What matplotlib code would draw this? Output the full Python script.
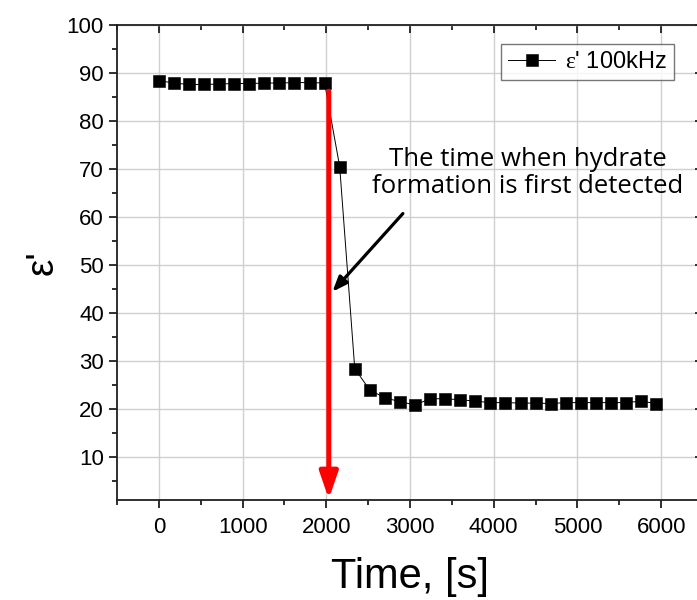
import numpy as np
import matplotlib
matplotlib.use('Agg')
import matplotlib.pyplot as plt

plt.rcParams['font.family'] = ['Liberation Sans', 'DejaVu Sans']
plt.rcParams['mathtext.fontset'] = 'custom'
plt.rcParams['mathtext.rm'] = 'Liberation Serif'

# Time points, s (every 180 s)
time_s = [0, 180, 360, 540, 720, 900, 1080, 1260, 1440, 1620, 1800, 1980,
          2160, 2340, 2520, 2700, 2880, 3060, 3240, 3420, 3600, 3780, 3960,
          4140, 4320, 4500, 4680, 4860, 5040, 5220, 5400, 5580, 5760, 5940]
# Real permittivity at 100 kHz
eps_100k = [88.4, 87.9, 87.6, 87.6, 87.7, 87.8, 87.8, 87.9, 87.9, 88.0, 88.0, 87.9,
            70.5, 28.4, 23.9, 22.3, 21.5, 20.8, 22.1, 22.1, 21.9, 21.6, 21.3,
            21.3, 21.2, 21.2, 21.1, 21.3, 21.3, 21.3, 21.3, 21.3, 21.6, 21.1]

x_ticks = [0, 1000, 2000, 3000, 4000, 5000, 6000]
y_ticks = [10, 20, 30, 40, 50, 60, 70, 80, 90, 100]

detect_time = 2030
note_text = 'The time when hydrate\nformation is first detected'

fig = plt.figure(figsize=(6.97, 6.0), dpi=100)
ax = fig.add_axes([117/697, 100/600, 586/697, 475/600])

ax.plot(time_s, eps_100k, '-s', color='black', lw=0.7, ms=9.3, mew=0.4,
        label=r"$\mathrm{ε}$' 100kHz", zorder=3)

# red arrow marking detection
ax.annotate('', xy=(detect_time, 1.2), xytext=(detect_time, 86.2),
            arrowprops=dict(arrowstyle='-|>,head_length=1.6,head_width=0.55',
                            color='#ff0000', lw=3.6, shrinkA=0, shrinkB=0),
            zorder=4)

# note with black arrow
ax.text(4410, 69.2, note_text, ha='center', va='center', fontsize=18.5,
        family=['Open Sans', 'DejaVu Sans'], linespacing=1.1, zorder=5)
ax.annotate('', xy=(2073, 44.4), xytext=(2915, 60.7),
            arrowprops=dict(arrowstyle='-|>,head_length=0.9,head_width=0.35',
                            color='black', lw=2.3, shrinkA=0, shrinkB=0),
            zorder=5)

ax.set_xlim(-500, 6500)
ax.set_ylim(1, 100)
ax.set_xticks(x_ticks)
ax.set_yticks(y_ticks)
ax.set_xticks(np.arange(-500, 6501, 500), minor=True)
ax.set_yticks(np.arange(5, 100, 5), minor=True)
ax.grid(True, which='major', color='#d0d0d0', lw=1.0)
ax.set_axisbelow(True)

ax.tick_params(which='both', direction='out', top=True, right=True,
               labelsize=16, width=1.3, color='#202020')
ax.tick_params(which='major', length=6)
ax.tick_params(which='minor', length=3.5)
ax.xaxis.set_tick_params(which='both', labeltop=False)
ax.tick_params(axis='x', pad=6)
for spine in ax.spines.values():
    spine.set_linewidth(1.3)
    spine.set_color('#202020')

# top/right ticks point inward, bottom/left outward
for t in ax.xaxis.get_major_ticks() + ax.xaxis.get_minor_ticks():
    t.tick2line.set_marker(3)
for t in ax.yaxis.get_major_ticks() + ax.yaxis.get_minor_ticks():
    t.tick2line.set_marker(0)

ax.set_xlabel('Time, [s]', fontsize=30, labelpad=14)
ax.set_ylabel("ε'", fontsize=28, labelpad=4)

leg = ax.legend(loc='upper right', bbox_to_anchor=(0.95, 0.96), fontsize=17,
                frameon=True, fancybox=False, handlelength=2.0,
                borderpad=0.3, handletextpad=0.4, borderaxespad=0)
leg.get_frame().set_edgecolor('#555555')
leg.get_frame().set_linewidth(1.0)

fig.savefig('out.png', dpi=100)
